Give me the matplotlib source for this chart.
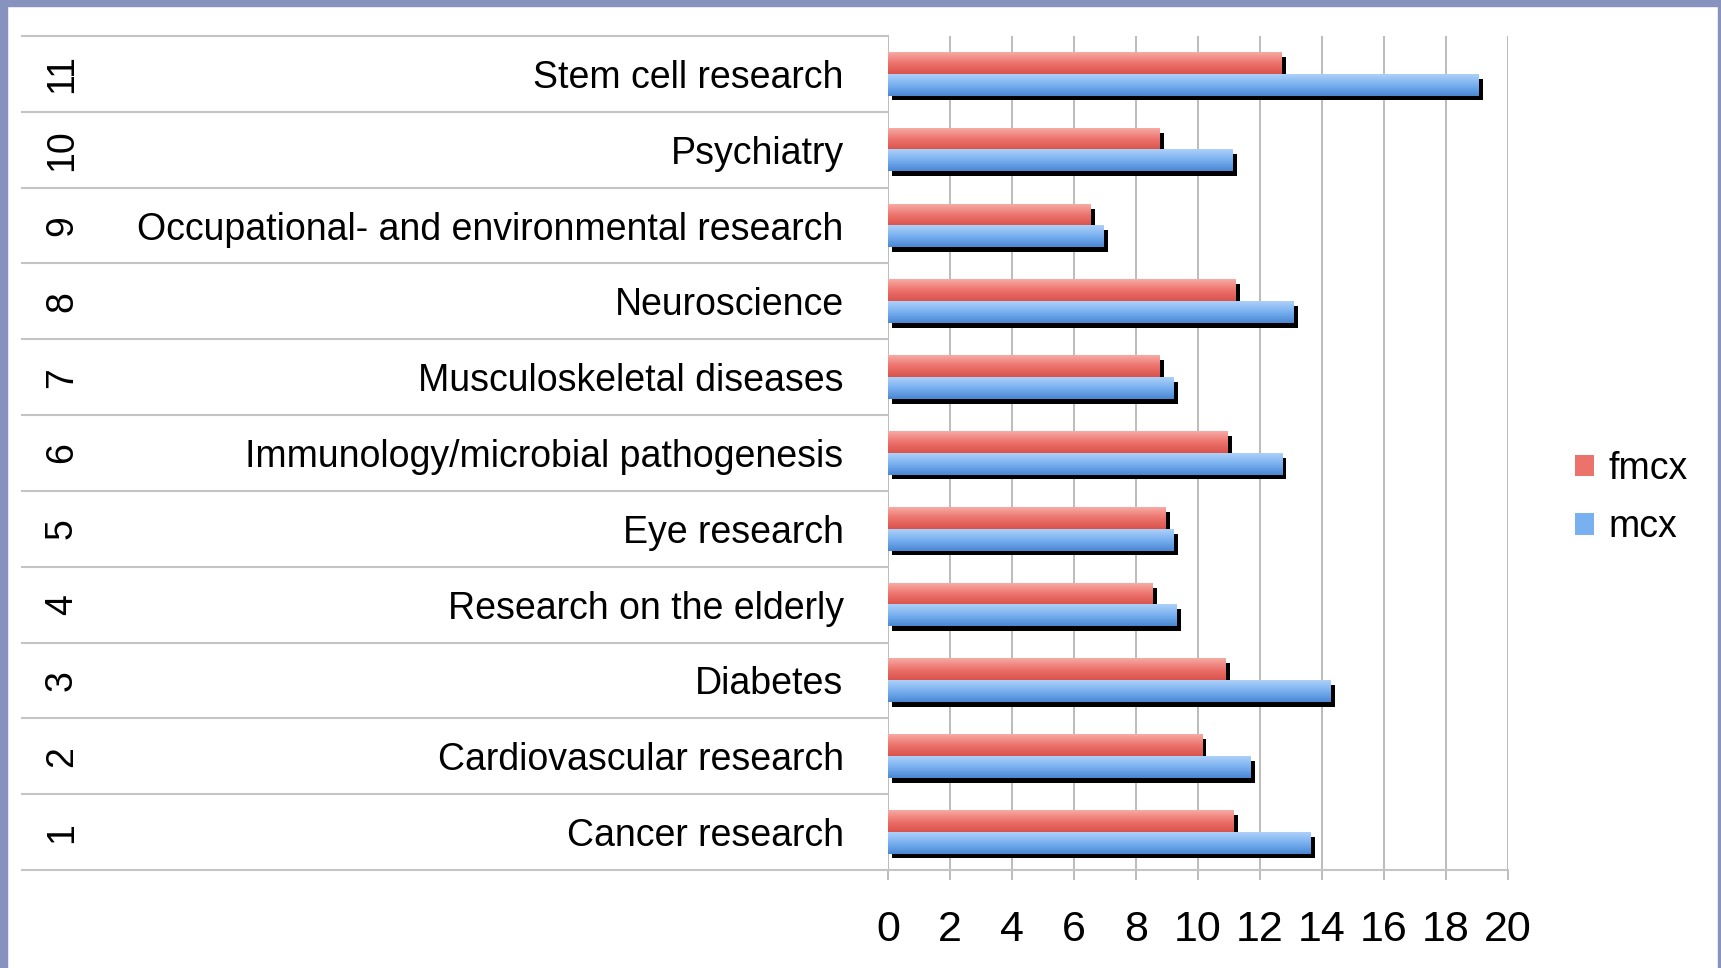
import numpy as np
import matplotlib
matplotlib.use('Agg')
import matplotlib.pyplot as plt
from matplotlib import patheffects
from matplotlib.colors import LinearSegmentedColormap
from matplotlib.patches import Rectangle, Patch

# data (bottom to top)
categories = ['Cancer research', 'Cardiovascular research', 'Diabetes',
              'Research on the elderly', 'Eye research',
              'Immunology/microbial pathogenesis', 'Musculoskeletal diseases',
              'Neuroscience', 'Occupational- and environmental research',
              'Psychiatry', 'Stem cell research']
row_numbers = ['1', '2', '3', '4', '5', '6', '7', '8', '9', '10', '11']
fmcx = [11.14, 10.13, 10.88, 8.52, 8.96, 10.94, 8.75, 11.22, 6.54, 8.77, 12.70]
mcx = [13.63, 11.68, 14.28, 9.31, 9.20, 12.71, 9.20, 13.08, 6.94, 11.10, 19.06]
xticks = [0, 2, 4, 6, 8, 10, 12, 14, 16, 18, 20]
series_names = ['fmcx', 'mcx']

plt.rcParams['font.family'] = ['Liberation Sans', 'DejaVu Sans']

W, H = 1721, 968
fig = plt.figure(figsize=(W / 100, H / 100), dpi=100)
ax = fig.add_axes([888 / W, 1 - 870 / H, 620 / W, 834 / H])

y = np.arange(len(categories))
h = 0.286
shadow = [patheffects.SimplePatchShadow(offset=(3.2, -3.4), shadow_rgbFace='black', alpha=1.0),
          patheffects.Normal()]

red_bars = ax.barh(y + h / 2, fmcx, height=h, color='#ec736c', zorder=2)
blue_bars = ax.barh(y - h / 2, mcx, height=h, color='#78b0f0', zorder=2)
for b in list(red_bars) + list(blue_bars):
    b.set_path_effects(shadow)

# gradient fill on top of each bar
red_cmap = LinearSegmentedColormap.from_list('r', ['#d9534c', '#ec736c', '#f7aaa4'])
blue_cmap = LinearSegmentedColormap.from_list('b', ['#4a87d3', '#78b0f0', '#add0f8'])
grad = np.linspace(0, 1, 64).reshape(-1, 1)
for bars, cmap in ((red_bars, red_cmap), (blue_bars, blue_cmap)):
    for b in bars:
        x0, y0 = b.get_x(), b.get_y()
        ax.imshow(grad, cmap=cmap, origin='lower', aspect='auto', zorder=2.5,
                  interpolation='bilinear',
                  extent=[x0, x0 + b.get_width(), y0, y0 + b.get_height()])

ax.set_xlim(0, 20)
ax.set_ylim(-0.5, len(categories) - 0.5)
for s in ax.spines.values():
    s.set_visible(False)

ax.set_xticks(xticks)
ax.set_xticklabels([str(t) for t in xticks])
ax.grid(axis='x', color='#b0b0b0', lw=1.2, zorder=0)
ax.set_axisbelow(True)
ax.tick_params(axis='x', length=7, width=1.2, color='#b0b0b0', pad=22, labelsize=31)

ax.set_yticks(y)
ax.set_yticklabels(categories, fontsize=27)
ax.tick_params(axis='y', length=0, pad=32)

# table lines on the left
trans = ax.get_yaxis_transform()
left = (22 - 888) / 620
for k in range(len(categories) + 1):
    ax.plot([left, 0], [k - 0.5, k - 0.5], transform=trans, color='#c4c4c4',
            lw=1.5, clip_on=False, zorder=1)
ax.plot([0, 1], [-0.5, -0.5], transform=trans, color='#c4c4c4', lw=1.5,
        clip_on=False, zorder=1)

for i, n in enumerate(row_numbers):
    ax.text((62 - 888) / 620, i, n, transform=trans, rotation=90,
            ha='center', va='center', fontsize=27)

handles = [Patch(facecolor='#ec736c'), Patch(facecolor='#78b0f0')]
fig.legend(handles, series_names, loc='center left',
           bbox_to_anchor=(1575 / W, 1 - 498 / H), frameon=False,
           borderpad=0, borderaxespad=0, handlelength=0.5, handleheight=0.5,
           handletextpad=0.4, labelspacing=0.6, fontsize=27)

# frame
frame_col = '#8792bf'
fig.add_artist(Rectangle((0, 1 - 6 / H), 1, 6 / H, transform=fig.transFigure, color=frame_col))
fig.add_artist(Rectangle((0, 0), 7 / W, 1, transform=fig.transFigure, color=frame_col))
fig.add_artist(Rectangle((1 - 3 / W, 0), 3 / W, 1, transform=fig.transFigure, color=frame_col))

fig.savefig('out.png', dpi=100, facecolor='white')
